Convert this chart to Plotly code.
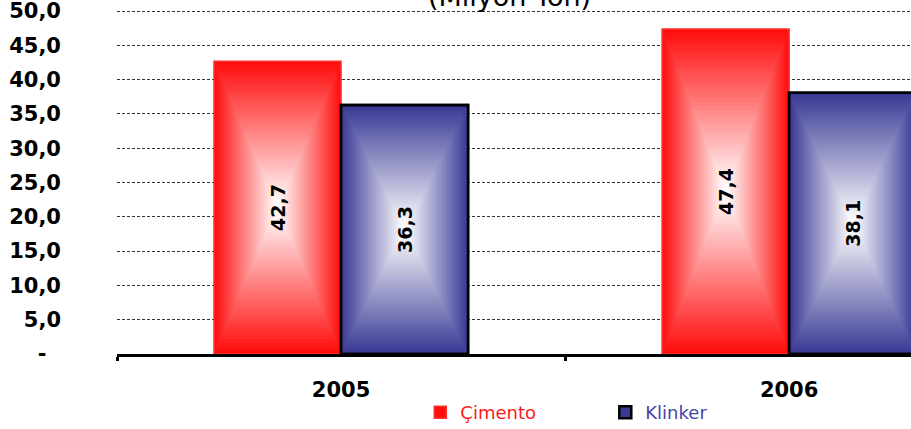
import plotly.graph_objects as go

# ---- data ----
years = ["2005", "2006"]
cimento = [42.7, 47.4]
klinker = [36.3, 38.1]
cimento_labels = ["42,7", "47,4"]
klinker_labels = ["36,3", "38,1"]
y_tickvals = [0, 5, 10, 15, 20, 25, 30, 35, 40, 45, 50]
y_ticktext = ["-\u00a0\u00a0", "5,0", "10,0", "15,0", "20,0", "25,0", "30,0",
              "35,0", "40,0", "45,0", "50,0"]
title_text = "(Milyon Ton)"

# ---- style ----
BAR_W = 0.2835
N_LAYERS = 40
RED_EDGE = (255, 14, 14)
BLUE_EDGE = (58, 58, 150)
WHITE = (255, 255, 255)


def mix(c1, c2, t):
    return "rgb(%d,%d,%d)" % tuple(round(a + (b - a) * t) for a, b in zip(c1, c2))


fig = go.Figure()


def add_gradient_series(values, center_off, edge, name, legend_color, rank, outline):
    for k in range(N_LAYERS):
        s = 1 - k / N_LAYERS
        t = k / (N_LAYERS - 1)
        line = outline if k == 0 else dict(width=0)
        fig.add_trace(go.Bar(
            x=years,
            y=[v * s for v in values],
            base=[v * (1 - s) / 2 for v in values],
            width=BAR_W * s,
            offset=center_off - BAR_W * s / 2,
            marker=dict(color=mix(edge, WHITE, t), line=line),
            name="<span style='color:%s'>%s</span>" % (legend_color, name),
            showlegend=(k == 0),
            legendrank=rank,
            hoverinfo="skip",
        ))


add_gradient_series(cimento, -BAR_W / 2, RED_EDGE, "Çimento", "#ff1a1a", 1,
                    dict(width=1.5, color="#ff3030"))
add_gradient_series(klinker, BAR_W / 2, BLUE_EDGE, "Klinker", "#4646a8", 2,
                    dict(width=2.5, color="black"))

LABEL_FONT = dict(family="DejaVu Sans", size=19, color="black", weight="bold")

# label / outline traces
fig.add_trace(go.Bar(
    x=years, y=cimento, width=BAR_W, offset=-BAR_W,
    marker=dict(color="rgba(0,0,0,0)", line=dict(width=0)),
    text=cimento_labels, textangle=-90, textposition="inside",
    insidetextanchor="middle", textfont=LABEL_FONT,
    showlegend=False, hoverinfo="skip",
))
fig.add_trace(go.Bar(
    x=years, y=klinker, width=BAR_W, offset=0,
    marker=dict(color="rgba(0,0,0,0)", line=dict(width=2.5, color="black")),
    text=klinker_labels, textangle=-90, textposition="inside",
    insidetextanchor="middle", textfont=LABEL_FONT,
    showlegend=False, hoverinfo="skip",
))

fig.update_layout(
    width=911, height=429,
    margin=dict(l=117, r=0, t=9, b=75, autoexpand=False),
    barmode="overlay",
    plot_bgcolor="white", paper_bgcolor="white",
    font=dict(family="DejaVu Sans", color="black"),
    legend=dict(
        orientation="h", x=0.382, xanchor="left", y=-0.17, yanchor="middle",
        font=dict(size=18), entrywidth=140, entrywidthmode="pixels",
        traceorder="normal", bgcolor="rgba(0,0,0,0)",
    ),
    xaxis=dict(
        type="category", range=[-0.5, 1.272], automargin=False,
        showline=True, linecolor="black", linewidth=3,
        ticks="outside", tickson="boundaries", ticklen=4, tickwidth=3,
        tickcolor="black", showgrid=False,
        tickfont=dict(size=21, weight="bold"), ticklabelstandoff=15,
    ),
    yaxis=dict(
        range=[0, 50.3], tickvals=y_tickvals, ticktext=y_ticktext,
        automargin=False, ticklabeloverflow="allow",
        showgrid=True, gridcolor="#333333", gridwidth=1, griddash="3px,2px",
        zeroline=False, showline=False, ticks="",
        tickfont=dict(size=21, weight="bold"), ticklabelstandoff=55,
    ),
    annotations=[dict(
        text=title_text, xref="paper", yref="paper", x=0.494, y=0.9855,
        xanchor="center", yanchor="bottom", showarrow=False,
        font=dict(size=27, color="black"),
    )],
)

fig.write_html("out.html",
               config={"displayModeBar": False},
               post_script="document.body.style.margin='0';"
                           "document.body.style.overflow='hidden';")
